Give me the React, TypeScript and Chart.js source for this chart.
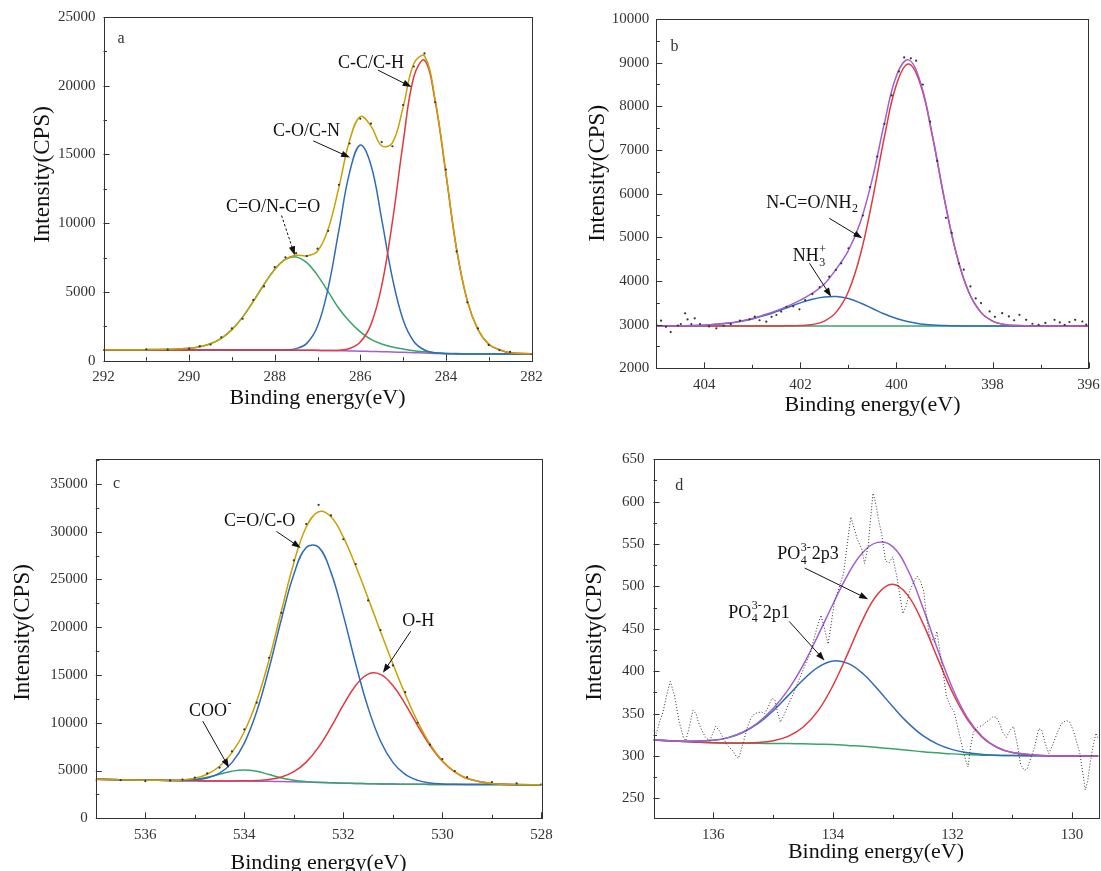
import React, { useEffect, useRef } from 'react';
import { Chart, registerables } from 'chart.js';

Chart.register(...registerables);

const W = 1101;
const H = 900;
const FONT = '"Liberation Serif", "DejaVu Serif", "Times New Roman", serif';

// ---------------- Panel a : C1s ----------------
const A_XTICKS = [282, 284, 286, 288, 290, 292];
const A_YTICKS = [0, 5000, 10000, 15000, 20000, 25000];
const A_X = [292, 291, 290.5, 290, 289.75, 289.5, 289.25, 289, 288.75, 288.5, 288.25, 288, 287.75, 287.5, 287.25, 287, 286.75, 286.5, 286.25, 286, 285.75, 285.5, 285.25, 285, 284.75, 284.5, 284.25, 284, 283.75, 283.5, 283.25, 283, 282.75, 282.5, 282];
const A_BASE = [790, 788, 786, 784, 783, 782, 781, 780, 779, 777, 775, 772, 768, 763, 757, 750, 740, 728, 712, 693, 673, 652, 633, 612, 585, 555, 527, 506, 494, 488, 485, 484, 483, 482, 481];
const A_GREEN = [792, 805, 830, 900, 1010, 1230, 1630, 2260, 3170, 4310, 5540, 6640, 7370, 7550, 7130, 6210, 5020, 3800, 2850, 2100, 1550, 1220, 1000, 850, 720, 645, 585, 545, 520, 506, 498, 493, 489, 486, 483];
const A_BLUE = [790, 788, 786, 784, 783, 782, 781, 780, 779, 777, 776, 775, 790, 880, 1260, 2500, 5300, 9500, 13700, 15690, 14220, 10280, 6010, 2980, 1400, 780, 575, 514, 497, 488, 485, 484, 483, 482, 481];
const A_RED = [790, 788, 786, 784, 783, 782, 781, 780, 779, 777, 775, 772, 768, 763, 758, 752, 748, 768, 891, 1353, 2641, 5440, 10100, 15840, 20650, 21850, 18870, 13600, 8100, 4350, 2250, 1200, 800, 575, 500];
const A_ENV = [792, 805, 830, 900, 1010, 1230, 1630, 2260, 3170, 4310, 5541, 6643, 7392, 7667, 7634, 7962, 9585, 12612, 16017, 17757, 17065, 15636, 15844, 18446, 21600, 22165, 18976, 13647, 8129, 4368, 2263, 1209, 806, 579, 502];
const A_RAW = [780, 830, 800, 880, 1060, 1180, 1700, 2350, 3050, 4420, 5400, 6800, 7520, 7820, 7600, 8150, 9450, 12800, 15800, 17600, 17250, 15900, 15600, 18600, 21400, 22350, 18800, 13900, 7950, 4250, 2350, 1150, 760, 640, 470];

// ---------------- Panel b : N1s ----------------
const B_XTICKS = [396, 398, 400, 402, 404];
const B_YTICKS = [2000, 3000, 4000, 5000, 6000, 7000, 8000, 9000, 10000];
const B_X = [405, 404.5, 404, 403.5, 403.25, 403, 402.75, 402.5, 402.25, 402, 401.75, 401.5, 401.25, 401, 400.75, 400.5, 400.25, 400, 399.75, 399.5, 399.25, 399, 398.75, 398.5, 398.25, 398, 397.75, 397.5, 397, 396.5, 396];
const B_BASE = [2970, 2970, 2970, 2970, 2970, 2970, 2970, 2970, 2970, 2970, 2970, 2970, 2970, 2970, 2970, 2970, 2970, 2970, 2970, 2970, 2970, 2970, 2970, 2970, 2970, 2970, 2970, 2970, 2970, 2970, 2970];
const B_BLUE = [2971, 2974, 2988, 3030, 3071, 3129, 3206, 3299, 3400, 3499, 3581, 3632, 3645, 3598, 3497, 3370, 3243, 3139, 3064, 3017, 2991, 2979, 2973, 2971, 2970, 2970, 2970, 2970, 2970, 2970, 2970];
const B_RED = [2970, 2970, 2970, 2970, 2970, 2970, 2970, 2970, 2972, 2978, 3003, 3082, 3292, 3757, 4605, 5858, 7305, 8502, 8970, 8502, 7305, 5858, 4605, 3757, 3292, 3082, 3003, 2978, 2970, 2970, 2970];
const B_ENV = [2971, 2974, 2988, 3035, 3080, 3140, 3225, 3320, 3430, 3560, 3720, 3930, 4280, 4700, 5350, 6350, 7620, 8700, 9064, 8549, 7326, 5867, 4608, 3758, 3292, 3082, 3003, 2978, 2970, 2970, 2970];
const B_RAW_X = [405.0, 404.9, 404.8, 404.7, 404.55, 404.49, 404.4, 404.35, 404.27, 404.2, 404.09, 403.9, 403.75, 403.6, 403.45, 403.26, 403.06, 402.95, 402.85, 402.71, 402.6, 402.5, 402.4, 402.29, 402.15, 402.02, 401.9, 401.75, 401.6, 401.4, 401.26, 401.15, 401.0, 400.85, 400.7, 400.55, 400.4, 400.25, 400.1, 399.95, 399.84, 399.7, 399.59, 399.45, 399.3, 399.15, 398.97, 398.85, 398.7, 398.6, 398.46, 398.35, 398.24, 398.06, 397.95, 397.8, 397.66, 397.55, 397.44, 397.3, 397.17, 397.04, 396.9, 396.71, 396.6, 396.5, 396.4, 396.28, 396.13, 396.05];
const B_RAW_Y = [3000, 3090, 2950, 2830, 2980, 3015, 3260, 3120, 3015, 3145, 3015, 2960, 2916, 2975, 3010, 3090, 3122, 3182, 3100, 3068, 3180, 3221, 3300, 3410, 3420, 3351, 3560, 3700, 3860, 4098, 4251, 4405, 4750, 5050, 5500, 6150, 6850, 7600, 8250, 8800, 9121, 9100, 9045, 8500, 7650, 6750, 5446, 5100, 4400, 4259, 3876, 3600, 3493, 3302, 3180, 3263, 3187, 3100, 3225, 3110, 3020, 2995, 3040, 3110, 3050, 2995, 3060, 3110, 3072, 3000];

// ---------------- Panel c : O1s ----------------
const C_XTICKS = [528, 530, 532, 534, 536];
const C_YTICKS = [0, 5000, 10000, 15000, 20000, 25000, 30000, 35000];
const C_X = [537, 536.5, 536, 535.5, 535.25, 535, 534.75, 534.5, 534.25, 534, 533.75, 533.5, 533.25, 533, 532.75, 532.5, 532.25, 532, 531.75, 531.5, 531.25, 531, 530.75, 530.5, 530.25, 530, 529.75, 529.5, 529, 528.5, 528];
const C_BASE = [4080, 4030, 3990, 3955, 3935, 3920, 3912, 3905, 3900, 3895, 3885, 3870, 3848, 3820, 3787, 3752, 3715, 3680, 3650, 3622, 3600, 3582, 3568, 3558, 3550, 3544, 3538, 3534, 3528, 3524, 3520];
const C_GREEN = [4080, 4030, 3990, 3968, 3986, 4078, 4292, 4615, 4932, 5065, 4915, 4580, 4228, 3978, 3838, 3765, 3717, 3680, 3650, 3622, 3600, 3582, 3568, 3558, 3550, 3544, 3538, 3534, 3528, 3524, 3520];
const C_BLUE = [4080, 4030, 3990, 3963, 3967, 4026, 4226, 4731, 5826, 7870, 11170, 15700, 20858, 25530, 28337, 28377, 25735, 21240, 16150, 11557, 8090, 5852, 4591, 3970, 3697, 3591, 3551, 3534, 3528, 3524, 3520];
const C_RED = [4080, 4030, 3990, 3955, 3935, 3920, 3912, 3905, 3905, 3917, 3954, 4062, 4325, 4877, 5879, 7447, 9537, 11860, 13905, 15092, 15060, 13902, 11958, 9708, 7620, 5974, 4848, 4171, 3638, 3537, 3520];
const C_ENV = [4080, 4030, 3990, 3976, 4018, 4184, 4606, 5441, 6870, 9062, 12269, 16602, 21715, 26745, 30480, 32085, 31559, 29420, 26405, 23027, 19550, 16172, 12981, 10120, 7767, 6021, 4861, 4171, 3638, 3537, 3520];
const C_RAW = [3950, 4000, 3900, 3960, 4050, 4250, 4700, 5300, 7000, 9300, 12100, 16800, 21500, 27000, 30800, 32800, 31700, 29200, 26600, 22800, 19700, 16000, 13200, 10000, 7700, 6200, 4950, 4300, 3800, 3650, 3560];

// ---------------- Panel d : P2p ----------------
const D_XTICKS = [130, 132, 134, 136];
const D_YTICKS = [250, 300, 350, 400, 450, 500, 550, 600, 650];
const D_X = [137, 136.5, 136, 135.75, 135.5, 135.25, 135, 134.75, 134.5, 134.25, 134, 133.75, 133.5, 133.25, 133, 132.75, 132.5, 132.25, 132, 131.75, 131.5, 131.25, 131, 130.5, 130, 129.56];
const D_BASE = [319, 317, 315.5, 315.2, 315, 314.9, 314.8, 314.6, 314.3, 313.9, 313.5, 312.5, 311.5, 310, 308.5, 306.8, 305, 303.7, 302.5, 301.7, 301, 300.7, 300.5, 300.2, 300, 300];
const D_BLUE = [319, 317.4, 318.5, 321.7, 328, 338.4, 353.2, 371.2, 389.6, 404.5, 412, 409.2, 397.3, 378.8, 358.3, 339.4, 324.3, 314, 307.5, 303.9, 301.9, 300.8, 300.5, 300.2, 300, 300];
const D_RED = [319, 317, 315.5, 315.2, 315.3, 316, 318.1, 323.2, 333.9, 353.2, 383, 421, 460.9, 491.2, 502.5, 489.8, 457.4, 415.5, 374.9, 343, 321.8, 310, 304.1, 300.6, 300, 300];
const D_ENV = [319, 317.4, 318.5, 321.7, 328.3, 339.5, 356, 378, 407, 442, 479, 514, 540, 552, 547, 520, 476, 426, 380, 345, 322.7, 310, 304, 300.6, 300, 300];
const D_RAW_X = [137.0, 136.95, 136.9, 136.84, 136.78, 136.72, 136.65, 136.57, 136.5, 136.46, 136.4, 136.34, 136.29, 136.25, 136.19, 136.13, 136.06, 135.96, 135.9, 135.84, 135.76, 135.67, 135.62, 135.58, 135.52, 135.43, 135.37, 135.31, 135.2, 135.14, 135.08, 135.02, 134.97, 134.92, 134.88, 134.82, 134.75, 134.67, 134.6, 134.52, 134.45, 134.38, 134.31, 134.25, 134.2, 134.14, 134.08, 134.02, 133.97, 133.9, 133.82, 133.76, 133.7, 133.65, 133.59, 133.52, 133.47, 133.41, 133.37, 133.33, 133.29, 133.24, 133.18, 133.12, 133.06, 133.0, 132.94, 132.88, 132.83, 132.77, 132.72, 132.65, 132.59, 132.53, 132.48, 132.44, 132.38, 132.3, 132.26, 132.21, 132.16, 132.1, 132.03, 131.97, 131.9, 131.84, 131.78, 131.74, 131.7, 131.65, 131.58, 131.5, 131.44, 131.39, 131.33, 131.27, 131.21, 131.16, 131.1, 131.04, 130.98, 130.92, 130.86, 130.8, 130.75, 130.68, 130.63, 130.56, 130.51, 130.45, 130.39, 130.33, 130.25, 130.18, 130.1, 130.04, 129.98, 129.93, 129.87, 129.82, 129.78, 129.74, 129.69, 129.64, 129.6, 129.56];
const D_RAW_Y = [330, 327, 340, 352, 372, 388, 372, 340, 322, 318, 335, 354, 350, 340, 330, 322, 318, 335, 330, 322, 312, 306, 300, 297, 310, 334, 345, 350, 352, 350, 358, 368, 366, 350, 340, 348, 360, 372, 384, 398, 410, 420, 440, 455, 466, 450, 432, 460, 484, 498, 516, 550, 582, 570, 555, 545, 527, 548, 580, 610, 600, 580, 560, 530, 528, 535, 515, 490, 468, 478, 494, 505, 512, 505, 494, 467, 440, 435, 447, 422, 400, 370, 358, 352, 330, 312, 295, 287, 310, 328, 334, 336, 340, 342, 346, 346, 338, 328, 322, 330, 335, 315, 290, 283, 285, 300, 310, 332, 331, 315, 303, 312, 327, 338, 342, 340, 330, 318, 303, 280, 260, 270, 295, 315, 327, 320];

// ---------------- colours ----------------
const GOLD = '#c9a100';
const RED = '#e0393f';
const BLUE = '#2e6db6';
const GREEN = '#37a56a';
const PURPLE = '#a35ed0';
const DOT = '#333333';

type Seg = { text: string; sub?: string; sup?: string };
type Ann = { segs: Seg[]; at: [number, number]; from: [number, number]; to: [number, number]; dashed?: boolean };
type Series = { x: number[]; y: number[]; color: string; kind: 'line' | 'dots' | 'dotted' };
type Panel = {
  area: { l: number; t: number; r: number; b: number };
  xMin: number; xMax: number; xTicks: number[]; xMinor: number;
  yMin: number; yMax: number; yTicks: number[]; yMinor: number;
  xLabelPad: number; yLabelPad: number;
  xTitle: [number, number]; yTitle: [number, number];
  letter: string; letterAt: [number, number];
  series: Series[];
  anns: Ann[];
};

const PANELS: Panel[] = [
  {
    area: { l: 103.5, t: 15.7, r: 531.5, b: 360.7 },
    xMin: 282, xMax: 292, xTicks: A_XTICKS, xMinor: 1,
    yMin: 0, yMax: 25000, yTicks: A_YTICKS, yMinor: 2500,
    xLabelPad: 7, yLabelPad: 8,
    xTitle: [317.5, 398.3], yTitle: [43, 174.5],
    letter: 'a', letterAt: [291.59, 23380],
    series: [
      { x: A_X, y: A_RAW, color: DOT, kind: 'dots' },
      { x: A_X, y: A_ENV, color: GOLD, kind: 'line' },
      { x: A_X, y: A_RED, color: RED, kind: 'line' },
      { x: A_X, y: A_BLUE, color: BLUE, kind: 'line' },
      { x: A_X, y: A_GREEN, color: GREEN, kind: 'line' },
      { x: A_X, y: A_BASE, color: PURPLE, kind: 'line' },
    ],
    anns: [
      { segs: [{ text: 'C-C/C-H' }], at: [286.52, 21640], from: [285.59, 21140], to: [284.8, 19910] },
      { segs: [{ text: 'C-O/C-N' }], at: [288.04, 16720], from: [287.1, 15990], to: [286.24, 14780] },
      { segs: [{ text: 'C=O/N-C=O' }], at: [289.14, 11160], from: [287.84, 10560], to: [287.53, 7660], dashed: true },
    ],
  },
  {
    area: { l: 656.3, t: 19, r: 1088.6, b: 368.3 },
    xMin: 396, xMax: 405, xTicks: B_XTICKS, xMinor: 1,
    yMin: 2000, yMax: 10000, yTicks: B_YTICKS, yMinor: 500,
    xLabelPad: 7.7, yLabelPad: 7,
    xTitle: [872.5, 405], yTitle: [598.2, 173.3],
    letter: 'b', letterAt: [404.62, 9366],
    series: [
      { x: B_RAW_X, y: B_RAW_Y, color: DOT, kind: 'dots' },
      { x: B_X, y: B_ENV, color: PURPLE, kind: 'line' },
      { x: B_X, y: B_RED, color: RED, kind: 'line' },
      { x: B_X, y: B_BLUE, color: BLUE, kind: 'line' },
      { x: B_X, y: B_BASE, color: GREEN, kind: 'line' },
    ],
    anns: [
      { segs: [{ text: 'N-C=O/NH', sub: '2' }], at: [402.71, 5779], from: [401.4, 5436], to: [400.71, 4978] },
      { segs: [{ text: 'NH', sub: '3', sup: '+' }], at: [402.16, 4556], from: [401.81, 4405], to: [401.36, 3640] },
    ],
  },
  {
    area: { l: 95.8, t: 459, r: 541.4, b: 818.3 },
    xMin: 528, xMax: 537, xTicks: C_XTICKS, xMinor: 1,
    yMin: 0, yMax: 37600, yTicks: C_YTICKS, yMinor: 2500,
    xLabelPad: 7.7, yLabelPad: 8,
    xTitle: [318.6, 863], yTitle: [22.8, 632.5],
    letter: 'c', letterAt: [536.58, 35030],
    series: [
      { x: C_X, y: C_RAW, color: DOT, kind: 'dots' },
      { x: C_X, y: C_ENV, color: GOLD, kind: 'line' },
      { x: C_X, y: C_BLUE, color: BLUE, kind: 'line' },
      { x: C_X, y: C_RED, color: RED, kind: 'line' },
      { x: C_X, y: C_GREEN, color: GREEN, kind: 'line' },
      { x: C_X, y: C_BASE, color: PURPLE, kind: 'line' },
    ],
    anns: [
      { segs: [{ text: 'C=O/C-O' }], at: [534.41, 31070], from: [533.35, 30020], to: [532.86, 28280] },
      { segs: [{ text: 'O-H' }], at: [530.81, 20620], from: [530.64, 19575], to: [531.2, 15220] },
      { segs: [{ text: 'COO', sup: '-' }], at: [535.12, 11215], from: [534.84, 10170], to: [534.31, 5294] },
    ],
  },
  {
    area: { l: 653.5, t: 459.3, r: 1098.4, b: 818.3 },
    xMin: 129.56, xMax: 137, xTicks: D_XTICKS, xMinor: 1,
    yMin: 226.5, yMax: 650, yTicks: D_YTICKS, yMinor: 25,
    xLabelPad: 7.7, yLabelPad: 9,
    xTitle: [876, 852], yTitle: [594.7, 632.5],
    letter: 'd', letterAt: [136.57, 619],
    series: [
      { x: D_RAW_X, y: D_RAW_Y, color: DOT, kind: 'dotted' },
      { x: D_X, y: D_ENV, color: PURPLE, kind: 'line' },
      { x: D_X, y: D_RED, color: RED, kind: 'line' },
      { x: D_X, y: D_BLUE, color: BLUE, kind: 'line' },
      { x: D_X, y: D_BASE, color: GREEN, kind: 'line' },
    ],
    anns: [
      { segs: [{ text: 'PO', sub: '4', sup: '3-' }, { text: '2p3' }], at: [134.93, 537.4], from: [134.47, 521.7], to: [133.41, 485] },
      { segs: [{ text: 'PO', sub: '4', sup: '3-' }, { text: '2p1' }], at: [135.75, 468.5], from: [134.73, 458.7], to: [134.14, 412.6] },
    ],
  },
];

function drawSegs(ctx: CanvasRenderingContext2D, segs: Seg[], x: number, y: number) {
  let cx = x;
  ctx.textAlign = 'left';
  ctx.textBaseline = 'middle';
  for (const s of segs) {
    ctx.font = `18px ${FONT}`;
    ctx.fillText(s.text, cx, y);
    cx += ctx.measureText(s.text).width;
    if (s.sub || s.sup) {
      ctx.font = `12px ${FONT}`;
      let w = 0;
      if (s.sub) {
        ctx.fillText(s.sub, cx + 0.5, y + 6);
        w = Math.max(w, ctx.measureText(s.sub).width);
      }
      if (s.sup) {
        ctx.fillText(s.sup, cx + 0.5, y - 7);
        w = Math.max(w, ctx.measureText(s.sup).width);
      }
      cx += w + 1.5;
    }
  }
}

function drawArrow(ctx: CanvasRenderingContext2D, x1: number, y1: number, x2: number, y2: number, dashed?: boolean) {
  const ang = Math.atan2(y2 - y1, x2 - x1);
  const L = 9;
  const hw = 3.2;
  const c = Math.cos(ang);
  const s = Math.sin(ang);
  ctx.lineWidth = 1;
  ctx.setLineDash(dashed ? [2.5, 2] : []);
  ctx.beginPath();
  ctx.moveTo(x1, y1);
  ctx.lineTo(x2 - L * 0.7 * c, y2 - L * 0.7 * s);
  ctx.stroke();
  ctx.setLineDash([]);
  ctx.beginPath();
  ctx.moveTo(x2, y2);
  ctx.lineTo(x2 - L * c + hw * s, y2 - L * s - hw * c);
  ctx.lineTo(x2 - L * c - hw * s, y2 - L * s + hw * c);
  ctx.closePath();
  ctx.fill();
}

function decorPlugin(p: Panel) {
  return {
    id: 'decor',
    afterDraw(chart: any) {
      const ctx: CanvasRenderingContext2D = chart.ctx;
      const { left, top, right, bottom } = chart.chartArea;
      const xs = chart.scales.x;
      const ys = chart.scales.y;
      ctx.save();
      ctx.strokeStyle = '#333';
      ctx.lineWidth = 1;
      ctx.strokeRect(Math.round(left) + 0.5, Math.round(top) + 0.5, Math.round(right - left), Math.round(bottom - top));
      // inward ticks: long at labelled values, short in between
      const isMajor = (v: number, list: number[]) => list.some((t) => Math.abs(t - v) < 1e-6);
      for (let i = Math.ceil(p.xMin / p.xMinor - 1e-9); i * p.xMinor <= p.xMax + 1e-9; i++) {
        const v = i * p.xMinor;
        const px = Math.round(xs.getPixelForValue(v)) + 0.5;
        const len = isMajor(v, p.xTicks) ? 6 : 3.5;
        ctx.beginPath();
        ctx.moveTo(px, bottom);
        ctx.lineTo(px, bottom - len);
        ctx.stroke();
      }
      for (let i = Math.ceil(p.yMin / p.yMinor - 1e-9); i * p.yMinor <= p.yMax + 1e-9; i++) {
        const v = i * p.yMinor;
        const py = Math.round(ys.getPixelForValue(v)) + 0.5;
        const len = isMajor(v, p.yTicks) ? 6 : 3.5;
        ctx.beginPath();
        ctx.moveTo(left, py);
        ctx.lineTo(left + len, py);
        ctx.stroke();
      }
      // axis titles
      ctx.fillStyle = '#111';
      ctx.textAlign = 'center';
      ctx.textBaseline = 'middle';
      ctx.font = `22px ${FONT}`;
      ctx.fillText('Binding energy(eV)', p.xTitle[0], p.xTitle[1]);
      ctx.save();
      ctx.translate(p.yTitle[0], p.yTitle[1]);
      ctx.rotate(-Math.PI / 2);
      ctx.font = `23px ${FONT}`;
      ctx.fillText('Intensity(CPS)', 0, 0);
      ctx.restore();
      // panel letter
      ctx.fillStyle = '#333';
      ctx.font = `16px ${FONT}`;
      ctx.fillText(p.letter, xs.getPixelForValue(p.letterAt[0]), ys.getPixelForValue(p.letterAt[1]));
      // annotations
      ctx.fillStyle = '#111';
      ctx.strokeStyle = '#111';
      for (const a of p.anns) {
        drawSegs(ctx, a.segs, xs.getPixelForValue(a.at[0]), ys.getPixelForValue(a.at[1]));
        drawArrow(
          ctx,
          xs.getPixelForValue(a.from[0]), ys.getPixelForValue(a.from[1]),
          xs.getPixelForValue(a.to[0]), ys.getPixelForValue(a.to[1]),
          a.dashed,
        );
      }
      ctx.restore();
    },
  };
}

function makeConfig(p: Panel): any {
  const datasets = p.series.map((s) => {
    const data = s.x.map((x, i) => ({ x, y: s.y[i] }));
    if (s.kind === 'dots') {
      return { data, showLine: false, pointRadius: 1.1, pointBackgroundColor: s.color, pointBorderWidth: 0, borderColor: s.color };
    }
    if (s.kind === 'dotted') {
      return { data, borderColor: s.color, borderWidth: 1, borderDash: [1, 2], tension: 0, pointRadius: 0, fill: false };
    }
    return { data, borderColor: s.color, borderWidth: 1.5, tension: 0.4, pointRadius: 0, fill: false };
  });
  const tickFont = { family: FONT, size: 15 };
  return {
    type: 'line',
    data: { datasets },
    options: {
      animation: false,
      responsive: false,
      maintainAspectRatio: false,
      events: [],
      layout: { padding: { left: 0, top: p.area.t, right: W - p.area.r, bottom: 0 } },
      plugins: { legend: { display: false }, tooltip: { enabled: false }, title: { display: false } },
      scales: {
        x: {
          type: 'linear',
          reverse: true,
          min: p.xMin,
          max: p.xMax,
          afterBuildTicks: (sc: any) => { sc.ticks = p.xTicks.map((v) => ({ value: v })); },
          afterFit: (sc: any) => { sc.height = H - p.area.b; },
          grid: { display: false, drawTicks: false },
          border: { display: false },
          ticks: { autoSkip: false, maxRotation: 0, minRotation: 0, padding: p.xLabelPad, font: tickFont, color: '#333', callback: (v: any) => String(v) },
        },
        y: {
          type: 'linear',
          min: p.yMin,
          max: p.yMax,
          afterBuildTicks: (sc: any) => { sc.ticks = p.yTicks.map((v) => ({ value: v })); },
          afterFit: (sc: any) => { sc.width = p.area.l; },
          grid: { display: false, drawTicks: false },
          border: { display: false },
          ticks: { autoSkip: false, padding: p.yLabelPad, font: tickFont, color: '#333', callback: (v: any) => String(v) },
        },
      },
    },
    plugins: [decorPlugin(p)],
  };
}

function PanelChart({ p }: { p: Panel }) {
  const ref = useRef<HTMLCanvasElement>(null);
  useEffect(() => {
    if (!ref.current) return;
    const chart = new Chart(ref.current, makeConfig(p));
    return () => chart.destroy();
  }, [p]);
  return (
    <canvas
      ref={ref}
      width={W}
      height={H}
      style={{ position: 'absolute', left: 0, top: 0, width: W, height: H }}
    />
  );
}

export default function App() {
  return (
    <div style={{ position: 'fixed', left: 0, top: 0, width: 1101, height: 871, overflow: 'hidden', background: '#fff' }}>
      {PANELS.map((p, i) => (
        <PanelChart key={i} p={p} />
      ))}
    </div>
  );
}
